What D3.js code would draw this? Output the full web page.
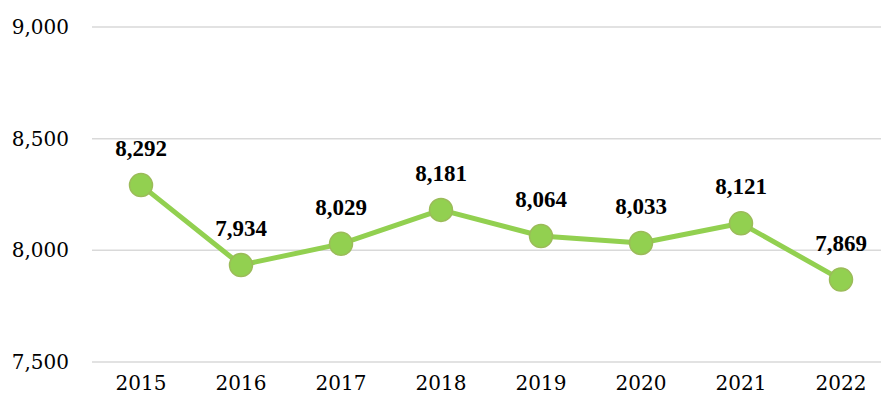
<!DOCTYPE html>
<html>
<head>
<meta charset="utf-8">
<script src="https://cdn.jsdelivr.net/npm/d3@7"></script>
<style>
  html, body { margin: 0; padding: 0; background: #fff; }
  svg { display: block; }
</style>
</head>
<body>
<div id="chart"></div>
<script>
// --- DATA ---
const years = ['2015', '2016', '2017', '2018', '2019', '2020', '2021', '2022'];
const values = [8292, 7934, 8029, 8181, 8064, 8033, 8121, 7869];
const yTicks = [7500, 8000, 8500, 9000];

// --- CHART ---
const W = 881, H = 401;
const svg = d3.select('#chart').append('svg')
    .attr('width', W)
    .attr('height', H);

const x = d3.scaleBand().domain(years).range([91, 891]);
const y = d3.scaleLinear().domain([7500, 9000]).range([362, 27]);
const fmt = d3.format(',');

// gridlines
svg.append('g')
    .selectAll('line')
    .data(yTicks)
    .join('line')
    .attr('x1', 92)
    .attr('x2', W)
    .attr('y1', d => y(d))
    .attr('y2', d => y(d))
    .attr('stroke', '#d9d9d9')
    .attr('stroke-width', 1.5);

// y axis labels
const yAxis = svg.append('g')
    .attr('transform', 'translate(69,0)')
    .call(d3.axisLeft(y).tickValues(yTicks).tickFormat(fmt).tickSize(0).tickPadding(0));
yAxis.select('.domain').remove();
yAxis.selectAll('text')
    .attr('font-family', '"DejaVu Serif", serif')
    .attr('font-size', 20)
    .attr('fill', '#000');

// x axis labels
const xAxis = svg.append('g')
    .attr('transform', 'translate(0,376)')
    .call(d3.axisBottom(x).tickSize(0).tickPadding(0));
xAxis.select('.domain').remove();
xAxis.selectAll('text')
    .attr('font-family', '"DejaVu Serif", serif')
    .attr('font-size', 20)
    .attr('fill', '#000');

const cx = d => x(d) + x.bandwidth() / 2;

// line
const line = d3.line()
    .x((d, i) => cx(years[i]))
    .y(d => y(d));

svg.append('path')
    .datum(values)
    .attr('d', line)
    .attr('fill', 'none')
    .attr('stroke', '#92d050')
    .attr('stroke-width', 5)
    .attr('stroke-linejoin', 'round');

// markers
svg.append('g')
    .selectAll('circle')
    .data(values)
    .join('circle')
    .attr('cx', (d, i) => cx(years[i]))
    .attr('cy', d => y(d))
    .attr('r', 11.5)
    .attr('fill', '#92d050')
    .attr('stroke', '#9bbb59')
    .attr('stroke-width', 1.5);

// data labels
svg.append('g')
    .selectAll('text')
    .data(values)
    .join('text')
    .attr('x', (d, i) => cx(years[i]))
    .attr('y', d => y(d) - 29)
    .attr('text-anchor', 'middle')
    .attr('font-family', '"Liberation Serif", "Times New Roman", serif')
    .attr('font-weight', 'bold')
    .attr('font-size', 23)
    .attr('fill', '#000')
    .text(d => fmt(d));
</script>
</body>
</html>
